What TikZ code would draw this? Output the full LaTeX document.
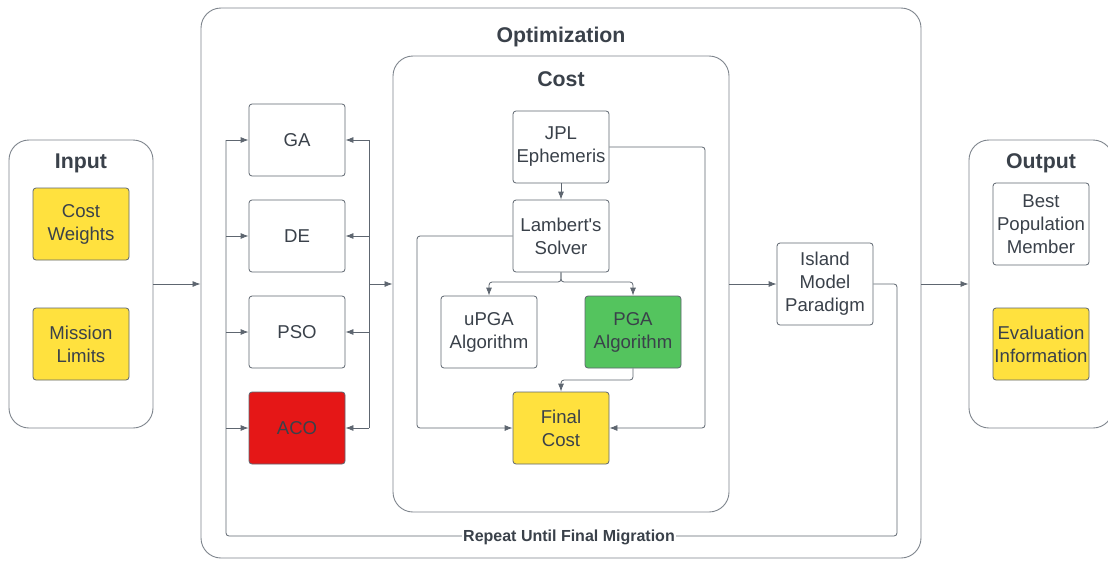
\documentclass[tikz,border=0pt]{standalone}
\usepackage{fontspec}
\setmainfont{Liberation Sans}
\usetikzlibrary{arrows.meta}
\definecolor{txt}{HTML}{3A414A}
\definecolor{ln}{HTML}{5E6670}
\definecolor{yel}{HTML}{FFE13E}
\definecolor{red1}{HTML}{E51717}
\definecolor{grn}{HTML}{54C45E}
\tikzset{
  box/.style={draw=ln, line width=0.8pt, rounded corners=3pt, minimum width=96pt, minimum height=72pt, inner sep=0pt, align=center, text=txt, font=\fontsize{18.6}{23}\selectfont},
  cont/.style={draw=ln!80, line width=0.9pt, rounded corners=20pt, inner sep=0pt, fill=white},
  ttl/.style={text=txt, font=\fontsize{21.3}{25}\selectfont\bfseries},
  conn/.style={draw=ln, line width=0.8pt, rounded corners=3pt},
  arr/.style={conn, -{Latex[length=8pt,width=6pt]}},
}
\begin{document}
\begin{tikzpicture}[x=1pt,y=-1pt]
\useasboundingbox (0,0) rectangle (1108,560);
\fill[white] (0,0) rectangle (1108,560);
% containers
\node[cont, minimum width=144pt, minimum height=288pt] (inp) at (81,284) {};
\node[cont, minimum width=720pt, minimum height=550pt] (opt) at (561,283) {};
\node[cont, minimum width=144pt, minimum height=288pt] (outp) at (1041,284) {};
\node[cont, minimum width=336pt, minimum height=456pt] (cost) at (561,284) {};
% titles
\node[ttl] (tin) at (81,163.5) {Input};
\node[ttl] (topt) at (561,36.5) {Optimization};
\node[ttl] (tcost) at (561,79) {Cost};
\node[ttl] (tout) at (1041,163.5) {Output};
% input / output boxes
\node[box, fill=yel] (cw) at (81,224) {Cost\\Weights};
\node[box, fill=yel] (ml) at (81,344) {Mission\\Limits};
\node[box, minimum height=82pt] (best) at (1041,224) {Best\\Population\\Member};
\node[box, fill=yel] (eval) at (1041,344) {Evaluation\\Information};
% algorithms
\node[box] (ga) at (297,140) {GA};
\node[box] (de) at (297,236) {DE};
\node[box] (pso) at (297,332) {PSO};
\node[box, fill=red1] (aco) at (297,428) {ACO};
% cost internals
\node[box] (jpl) at (561,147) {JPL\\Ephemeris};
\node[box] (lam) at (561,236) {Lambert\textquotesingle s\\Solver};
\node[box] (upga) at (489,332) {uPGA\\Algorithm};
\node[box, fill=grn] (pga) at (633,332) {PGA\\Algorithm};
\node[box, fill=yel] (fc) at (561,428) {Final\\Cost};
\node[box, minimum height=82pt] (isl) at (825,284) {Island\\Model\\Paradigm};
% coordinates
\coordinate (lb) at (226,140);
\coordinate (rb) at (369,284);
% connectors
\draw[arr] (inp.east |- 0,284) -- (opt.west |- 0,284);
\draw[arr] (opt.east |- 0,284) -- (outp.west |- 0,284);
\draw[arr] (cost.east |- 0,284) -- (isl.west);
% loop
\draw[conn] (isl.east) -- (897,284) -- (897,536) -- (226,536) -- (lb);
\node[fill=white, text=txt, inner sep=1pt, font=\fontsize{16}{19}\selectfont\bfseries] (rep) at (569,537) {Repeat Until Final Migration};
\draw[arr] (lb) -- (ga.west);
\draw[arr] (226,236) -- (de.west);
\draw[arr] (226,332) -- (pso.west);
\draw[arr] (226,428) -- (aco.west);
% right bus
\draw[conn] (369,140) -- (369,428);
\draw[arr] (369,140) -- (ga.east);
\draw[arr] (369,236) -- (de.east);
\draw[arr] (369,332) -- (pso.east);
\draw[arr] (369,428) -- (aco.east);
\draw[arr] (rb) -- (cost.west |- rb);
% cost internals
\draw[arr] (jpl) -- (lam);
\draw[arr] (lam.south) -- (561,282) -- (489,282) -- (upga.north);
\draw[arr] (lam.south) -- (561,282) -- (633,282) -- (pga.north);
\draw[arr] (pga.south) -- (633,380) -- (561,380) -- (fc.north);
\draw[arr] (lam.west) -- (417,236) -- (417,428) -- (fc.west);
\draw[arr] (jpl.east) -- (705,147) -- (705,428) -- (fc.east);
\end{tikzpicture}
\end{document}
